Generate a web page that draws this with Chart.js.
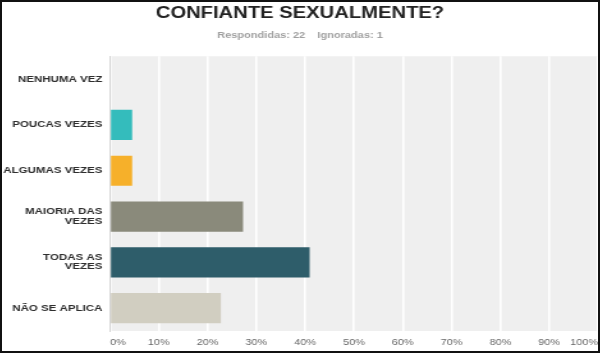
<!DOCTYPE html>
<html>
<head>
<meta charset="utf-8">
<script src="https://cdn.jsdelivr.net/npm/chart.js@4"></script>
<style>
  html, body { margin: 0; padding: 0; background: #fff; }
  #wrap { width: 600px; height: 353px; box-sizing: border-box; border: 2px solid #111; position: relative; overflow: hidden; }
  /* the source picture is stretched sideways; mimic it */
  #chart { transform: scaleX(1.279); transform-origin: 0 0; }
</style>
</head>
<body>
<div id="wrap"><canvas id="chart" width="466" height="349"></canvas></div>
<script>
// answers and their share (%) of 22 responses
var categories = ["NENHUMA VEZ", "POUCAS VEZES", "ALGUMAS VEZES", ["MAIORIA DAS", "VEZES"], ["TODAS AS", "VEZES"], "NÃO SE APLICA"];
var percents = [0, 4.55, 4.55, 27.27, 40.91, 22.73];
var barColors = ["#34bcbc", "#34bcbc", "#f6b02a", "#8a8a7b", "#2e5d6a", "#d1cec1"];
var tickLabels = ["0%", "10%", "20%", "30%", "40%", "50%", "60%", "70%", "80%", "90%", "100%"];

var plotBg = {
    id: "plotBg",
    beforeDraw: function(chart) {
        var a = chart.chartArea, ctx = chart.ctx;
        ctx.save();
        ctx.fillStyle = "#efefef";
        ctx.fillRect(a.left, a.top, a.right - a.left, a.bottom - a.top);
        ctx.restore();
    }
};

var ctx = document.getElementById("chart");
var chart = new Chart(ctx, {
    type: "bar",
    data: {
        labels: categories,
        datasets: [{
            data: percents,
            backgroundColor: barColors,
            borderWidth: 0,
            barPercentage: 0.66,
            categoryPercentage: 1
        }]
    },
    options: {
        indexAxis: "y",
        responsive: false,
        animation: false,
        devicePixelRatio: 1,
        layout: { padding: 0 },
        plugins: {
            legend: { display: false },
            tooltip: { enabled: false },
            title: {
                display: true,
                text: "CONFIANTE SEXUALMENTE?",
                color: "#222",
                font: { family: "Liberation Sans, Arial", size: 15.8, weight: "bold" },
                padding: { top: 2, bottom: 8 }
            },
            subtitle: {
                display: true,
                text: "Respondidas: 22    Ignoradas: 1",
                color: "#a0a0a0",
                font: { family: "Liberation Sans, Arial", size: 8.6, weight: "bold" },
                padding: { top: 0, bottom: 15 }
            }
        },
        scales: {
            x: {
                min: 0,
                max: 100,
                ticks: {
                    stepSize: 10,
                    color: "#666",
                    font: { family: "Liberation Sans, Arial", size: 8.5 },
                    padding: 7,
                    align: "inner",
                    maxRotation: 0,
                    callback: function(v, i) { return tickLabels[i]; }
                },
                grid: { color: "#ffffff", lineWidth: 1.6, drawTicks: false },
                border: { display: false },
                afterFit: function(s) { s.height = 20; s.paddingLeft = 0; s.paddingRight = 0; }
            },
            y: {
                ticks: {
                    color: "#2e2e2e",
                    font: { family: "Liberation Sans, Arial", size: 9, weight: "bold", lineHeight: 1.02 },
                    padding: 6,
                    autoSkip: false
                },
                grid: { display: false, drawTicks: false, tickLength: 0 },
                border: { display: true, color: "#d4d4d4", width: 1 },
                afterFit: function(s) { s.width = 84.4; }
            }
        }
    },
    plugins: [plotBg]
});
</script>
</body>
</html>
